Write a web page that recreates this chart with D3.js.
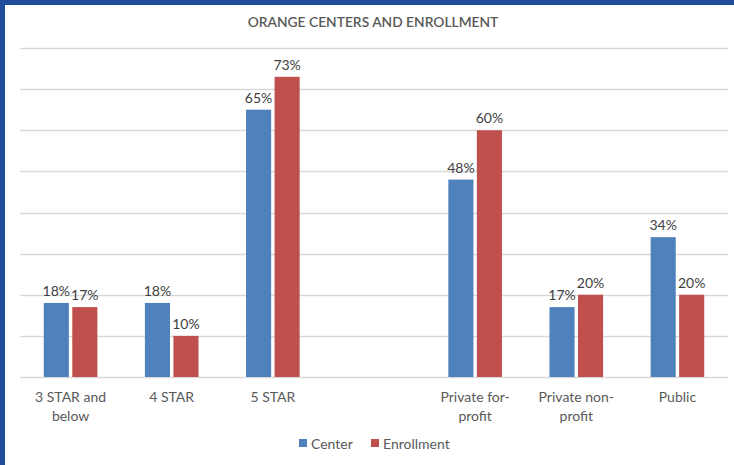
<!DOCTYPE html>
<html><head><meta charset="utf-8">
<script src="https://cdn.jsdelivr.net/npm/d3@7"></script>
<style>
html,body{margin:0;padding:0;background:#fff;}
svg{display:block;font-family:Lato,"Open Sans",sans-serif;}
</style></head>
<body><svg id="c" width="734" height="465"></svg>
<script>
const categories = ["3 STAR and below","4 STAR","5 STAR","","Private for-profit","Private non-profit","Public"];
const labelLines = [["3 STAR and","below"],["4 STAR"],["5 STAR"],[],["Private for-","profit"],["Private non-","profit"],["Public"]];
const centerValues = [18,18,65,null,48,17,34];
const enrollmentValues = [17,10,73,null,60,20,20];
const seriesNames = ["Center","Enrollment"];
const yTicks = [0,10,20,30,40,50,60,70,80];
const title = "ORANGE CENTERS AND ENROLLMENT";

(function(){
const colors = ["#4F81BD","#C0504D"];
const svg = d3.select("#c");
const W=734,H=465;
svg.append("rect").attr("width",W).attr("height",H).attr("fill","#fff");
svg.append("rect").attr("x",0).attr("y",0).attr("width",W).attr("height",5).attr("fill","#1F4E9B");
svg.append("rect").attr("x",0).attr("y",0).attr("width",5).attr("height",H).attr("fill","#1F4E9B");

const pl=20,pr=728,pt=48,pb=377;
const x = d3.scaleBand().domain(categories.map((c,i)=>i)).range([pl,pr]);
const y = d3.scaleLinear().domain([0,80]).range([pb,pt]);
const inner = d3.scaleBand().domain([0,1]).range([x.bandwidth()*0.235,x.bandwidth()*0.765]).paddingInner(0.12);

svg.append("g").selectAll("line").data(yTicks).join("line")
 .attr("x1",pl).attr("x2",pr).attr("y1",d=>Math.round(y(d))+0.5).attr("y2",d=>Math.round(y(d))+0.5)
 .attr("stroke","#D9D9D9").attr("stroke-width",1.3);

svg.append("text").attr("x",373).attr("y",27).attr("text-anchor","middle")
 .attr("font-size",13.8).attr("font-weight",600).attr("fill","#595959").text(title);

const series=[centerValues,enrollmentValues];
series.forEach((vals,s)=>{
  const g=svg.append("g");
  vals.forEach((v,i)=>{
    if(v==null) return;
    const bx=x(i)+inner(s);
    g.append("rect").attr("x",bx).attr("y",y(v)).attr("width",inner.bandwidth()).attr("height",pb-y(v))
     .attr("fill",colors[s]);
    g.append("text").attr("x",bx+inner.bandwidth()/2).attr("y",y(v)-7).attr("text-anchor","middle")
     .attr("font-size",14).attr("fill","#404040").text(v+"%");
  });
});

labelLines.forEach((lines,i)=>{
  const t=svg.append("text").attr("text-anchor","middle").attr("font-size",14).attr("fill","#595959");
  lines.forEach((l,k)=>t.append("tspan").attr("x",x(i)+x.bandwidth()/2).attr("y",402+k*19).text(l));
});

const leg=svg.append("g");
const legX=[299,371];
seriesNames.forEach((n,s)=>{
  leg.append("rect").attr("x",legX[s]).attr("y",439).attr("width",8).attr("height",8).attr("fill",colors[s]);
  leg.append("text").attr("x",legX[s]+12).attr("y",449).attr("font-size",14).attr("fill","#595959").text(n);
});
})();
</script></body></html>
